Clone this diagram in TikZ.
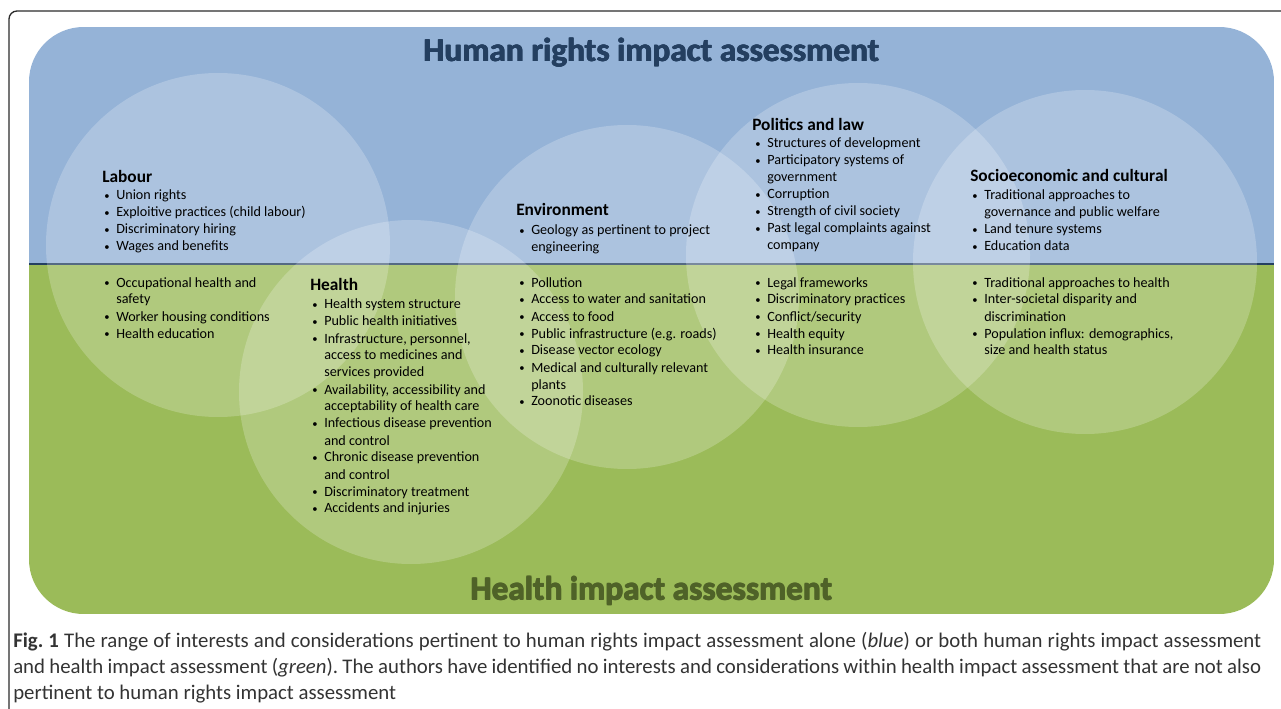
\documentclass[tikz,border=0pt]{standalone}
\usepackage{fontspec}
\setmainfont{Carlito}

\definecolor{hriablue}{HTML}{95B3D7}
\definecolor{hiagreen}{HTML}{9BBB59}
\definecolor{hrialine}{HTML}{243F60}
\definecolor{hriatitle}{HTML}{243F60}
\definecolor{hiatitle}{HTML}{4F6228}
\definecolor{captiongray}{HTML}{333333}
\definecolor{framegray}{HTML}{2B2B2B}

\newcommand{\bl}{\makebox[9pt][l]{\raisebox{0.6pt}{\scalebox{0.75}{\textbullet}}}}
\newcommand{\cn}{\hspace*{9pt}}
\newcommand{\topiclist}[1]{\begin{tabular}[t]{@{}l@{}}#1\end{tabular}}
% heavier title lettering
\newcommand{\heavytext}[1]{\makebox[0pt][l]{\hspace{0.6pt}#1}\makebox[0pt][l]{\raisebox{0.5pt}{#1}}\makebox[0pt][l]{\hspace{0.6pt}\raisebox{0.5pt}{#1}}#1\hspace{0.6pt}}

\tikzset{
  topichead/.style={anchor=base west, inner sep=0pt, font=\bfseries\fontsize{13pt}{15.6pt}\selectfont},
  topicitems/.style={anchor=base west, inner sep=0pt, font=\fontsize{10.6pt}{12.75pt}\selectfont},
  bigtitle/.style={anchor=base, inner sep=0pt, font=\bfseries\fontsize{25pt}{30pt}\selectfont},
  halo/.style={fill=white, fill opacity=0.22}
}

\begin{document}
\begin{tikzpicture}[x=0.75pt,y=0.75pt,yscale=-1,xscale=1]
\useasboundingbox (0,0) rectangle (1281,709);
\clip (0,0) rectangle (1281,709);

%Shape: Frame
\draw [framegray, line width=1pt, rounded corners=6pt] (9,11) rectangle (1300,730);

%Shape: Panel (blue above, green below)
\begin{scope}
\clip [rounded corners=41pt] (29,27) rectangle (1274,614);
\fill [hriablue] (29,27) rectangle (1274,264);
\fill [hiagreen] (29,264) rectangle (1274,614);
\end{scope}
%Straight Lines
\draw [hrialine, line width=2.2pt] (29,264) -- (1274,264);

%Shape: Circles
\foreach \cx/\cy in {218/245, 411/392, 627/297, 858/255, 1085/262}
  \fill [halo] (\cx,\cy) circle (172);

% Text Node
\node (hria) [bigtitle, text=hriatitle] at (651,62) {\heavytext{Human rights impact assessment}};
% Text Node
\node (hia) [bigtitle, text=hiatitle] at (651,600) {\heavytext{Health impact assessment}};

% Labour
\node (labour) [topichead] at (102,183) {Labour};
\node (labour-top) [topicitems] at (104,200) {\topiclist{
  \bl Union rights\\
  \bl Exploitive practices (child labour)\\
  \bl Discriminatory hiring\\
  \bl Wages and benefits}};
\node (labour-bot) [topicitems] at (104,287) {\topiclist{
  \bl Occupational health and\\
  \cn safety\\
  \bl Worker housing conditions\\
  \bl Health education}};

% Health
\node (health) [topichead] at (310,291) {Health};
\node (health-bot) [topicitems] at (312,309) {\topiclist{
  \bl Health system structure\\
  \bl Public health initiatives\\
  \bl Infrastructure, personnel,\\
  \cn access to medicines and\\
  \cn services provided\\
  \bl Availability, accessibility and\\
  \cn acceptability of health care\\
  \bl Infectious disease prevention\\
  \cn and control\\
  \bl Chronic disease prevention\\
  \cn and control\\
  \bl Discriminatory treatment\\
  \bl Accidents and injuries}};

% Environment
\node (environment) [topichead] at (516,216) {Environment};
\node (environment-top) [topicitems] at (519,235) {\topiclist{
  \bl Geology as pertinent to project\\
  \cn engineering}};
\node (environment-bot) [topicitems] at (519,287) {\topiclist{
  \bl Pollution\\
  \bl Access to water and sanitation\\
  \bl Access to food\\
  \bl Public infrastructure (e.g. roads)\\
  \bl Disease vector ecology\\
  \bl Medical and culturally relevant\\
  \cn plants\\
  \bl Zoonotic diseases}};

% Politics and law
\node (politics) [topichead] at (752,131) {Politics and law};
\node (politics-top) [topicitems] at (755,148) {\topiclist{
  \bl Structures of development\\
  \bl Participatory systems of\\
  \cn government\\
  \bl Corruption\\
  \bl Strength of civil society\\
  \bl Past legal complaints against\\
  \cn company}};
\node (politics-bot) [topicitems] at (755,287) {\topiclist{
  \bl Legal frameworks\\
  \bl Discriminatory practices\\
  \bl Conflict/security\\
  \bl Health equity\\
  \bl Health insurance}};

% Socioeconomic and cultural
\node (socio) [topichead] at (970,182) {Socioeconomic and cultural};
\node (socio-top) [topicitems] at (972,200) {\topiclist{
  \bl Traditional approaches to\\
  \cn governance and public welfare\\
  \bl Land tenure systems\\
  \bl Education data}};
\node (socio-bot) [topicitems] at (972,287) {\topiclist{
  \bl Traditional approaches to health\\
  \bl Inter-societal disparity and\\
  \cn discrimination\\
  \bl Population influx: demographics,\\
  \cn size and health status}};

% Caption
\node (caption) [anchor=base west, inner sep=0pt, text=captiongray, font=\fontsize{15.6pt}{19.5pt}\selectfont] at (13,647) {\parbox[t]{936pt}{\frenchspacing\textbf{Fig.~1} The range of interests and considerations pertinent to human rights impact assessment alone (\textit{blue}) or both human rights impact assessment\linebreak and health impact assessment (\textit{green}). The authors have identified no interests and considerations within health impact assessment that are not also\linebreak pertinent to human rights impact assessment}};

\end{tikzpicture}
\end{document}
